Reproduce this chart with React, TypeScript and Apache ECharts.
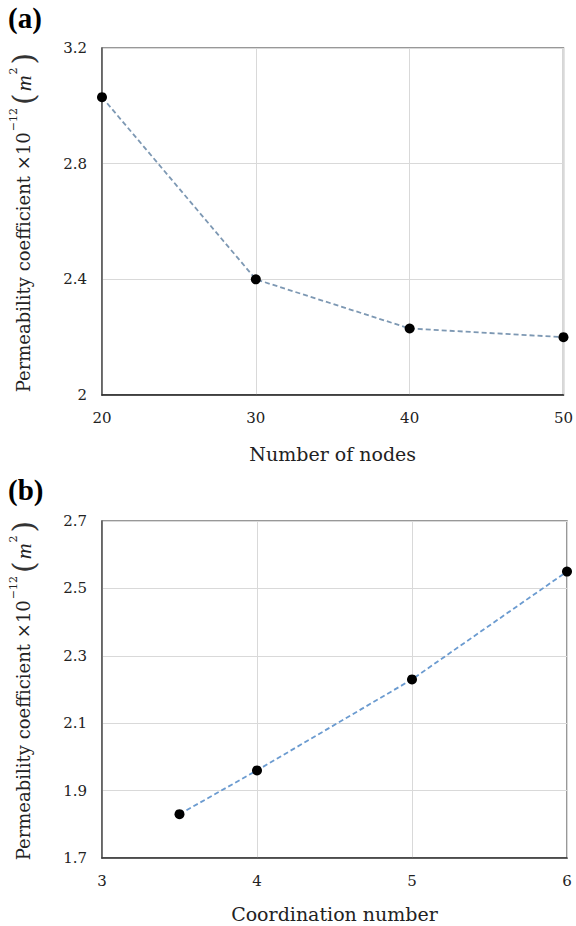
import React, { useEffect, useRef } from "react";
import * as echarts from "echarts";

const nodesX = [20, 30, 40, 50];
const nodesY = [3.03, 2.4, 2.23, 2.2];
const coordX = [3.5, 4, 5, 6];
const coordY = [1.83, 1.96, 2.23, 2.55];

const SERIF = "DejaVu Serif";
const LINE_COLOR = "#6b9bd0";

const yName = "{a|Permeability coefficient ×10}{s|−12}{p|(}{m|m}{s|2}{p|)}";
const yRich = {
  a: { fontFamily: SERIF, fontSize: 18, color: "#222", verticalAlign: "middle" },
  s: { fontFamily: SERIF, fontSize: 11, color: "#222", verticalAlign: "top", padding: [0, 1, 9, 1] },
  p: { fontFamily: SERIF, fontSize: 30, color: "#333", fontWeight: 100, padding: [0, 2, 0, 2] },
  m: { fontFamily: "Liberation Serif", fontStyle: "italic", fontSize: 22, color: "#222" },
};

const fmt = (v: number) => String(Number(v.toFixed(1)));

export default function App() {
  const ref = useRef<HTMLDivElement>(null);
  useEffect(() => {
    const chart = echarts.init(ref.current!, null, { renderer: "svg" });
    const axisLabel = { fontFamily: SERIF, fontSize: 15, color: "#222", margin: 15, formatter: fmt };
    const split = { show: true, lineStyle: { color: "#d9d9d9", width: 1 } };
    chart.setOption({
      animation: false,
      backgroundColor: "#fff",
      graphic: [
        { type: "text", left: 8, top: 3, style: { text: "(a)", fontFamily: "Liberation Serif", fontWeight: "bold", fontSize: 29, fill: "#000" } },
        { type: "text", left: 8, top: 475, style: { text: "(b)", fontFamily: "Liberation Serif", fontWeight: "bold", fontSize: 29, fill: "#000" } },
      ],
      grid: [
        { left: 95, right: 11, top: 48, height: 347, show: true, borderColor: "#777", borderWidth: 1.5 },
        { left: 97, right: 9, top: 521, height: 337, show: true, borderColor: "#777", borderWidth: 1.5 },
      ],
      xAxis: [
        {
          gridIndex: 0, type: "value", min: 20, max: 50, interval: 10,
          axisLine: { show: true, onZero: false, lineStyle: { color: "#222", width: 1.5 } },
          axisTick: { show: false }, splitLine: split, axisLabel,
          name: "Number of nodes", nameLocation: "middle", nameGap: 49,
          nameTextStyle: { fontFamily: SERIF, fontSize: 19, color: "#222" },
        },
        {
          gridIndex: 1, type: "value", min: 3, max: 6, interval: 1,
          axisLine: { show: true, onZero: false, lineStyle: { color: "#333", width: 1.5 } },
          axisTick: { show: false }, splitLine: split, axisLabel,
          name: "Coordination number", nameLocation: "middle", nameGap: 46,
          nameTextStyle: { fontFamily: SERIF, fontSize: 19, color: "#222" },
        },
      ],
      yAxis: [
        {
          gridIndex: 0, type: "value", min: 2, max: 3.2, interval: 0.4,
          axisLine: { show: true, onZero: false, lineStyle: { color: "#555", width: 1.5 } },
          axisTick: { show: false }, splitLine: split, axisLabel,
          name: yName, nameLocation: "middle", nameGap: 64,
          nameTextStyle: { rich: yRich },
        },
        {
          gridIndex: 1, type: "value", min: 1.7, max: 2.7, interval: 0.2,
          axisLine: { show: true, onZero: false, lineStyle: { color: "#555", width: 1.5 } },
          axisTick: { show: false }, splitLine: split, axisLabel,
          name: yName, nameLocation: "middle", nameGap: 64,
          nameTextStyle: { rich: yRich },
        },
      ],
      series: [
        {
          type: "line", xAxisIndex: 0, yAxisIndex: 0,
          data: nodesX.map((x, i) => [x, nodesY[i]]),
          symbol: "circle", symbolSize: 10,
          itemStyle: { color: "#000" },
          lineStyle: { color: "#7d98b3", width: 1.8, type: [5, 3] },
        },
        {
          type: "line", xAxisIndex: 1, yAxisIndex: 1,
          data: coordX.map((x, i) => [x, coordY[i]]),
          symbol: "circle", symbolSize: 10,
          itemStyle: { color: "#000" },
          lineStyle: { color: LINE_COLOR, width: 1.8, type: [5, 3] },
        },
      ],
    });
    return () => chart.dispose();
  }, []);
  return <div ref={ref} style={{ position: "absolute", left: 0, top: 0, width: 576, height: 926 }} />;
}
